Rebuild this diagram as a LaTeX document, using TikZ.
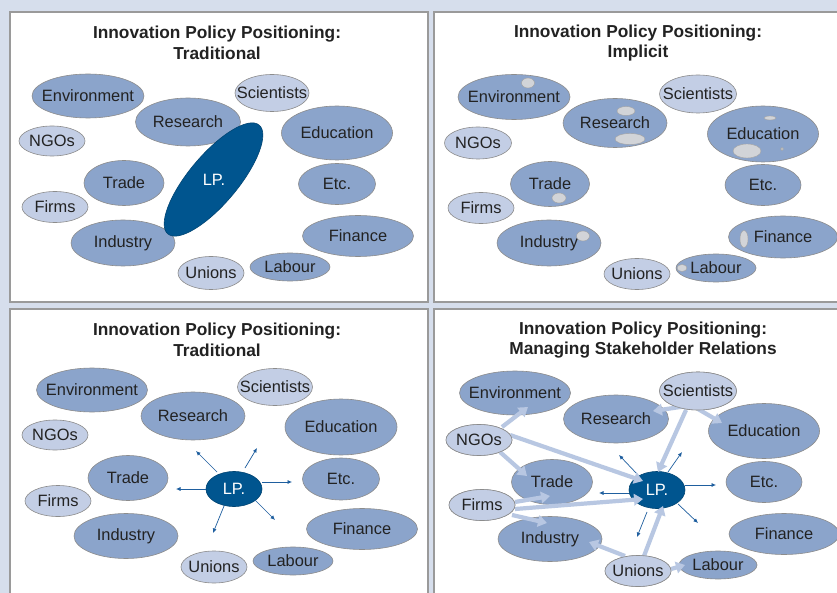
\documentclass[tikz,border=0pt]{standalone}
\usepackage{fontspec}
\setmainfont{Liberation Sans}
\usetikzlibrary{shapes.geometric,arrows.meta,calc}
\definecolor{bgc}{HTML}{D6DEEC}
\definecolor{darkfill}{HTML}{8BA4CB}
\definecolor{lightfill}{HTML}{C3CEE5}
\definecolor{edgec}{HTML}{8C8C8C}
\definecolor{lpc}{HTML}{00558F}
\definecolor{thickc}{HTML}{B8C7E2}
\definecolor{thinc}{HTML}{1F5F9F}
\definecolor{txtc}{HTML}{222222}
\definecolor{blobc}{HTML}{D2D4D8}
\definecolor{panelc}{HTML}{9A9A9A}
\tikzset{
  ell/.style={ellipse, inner sep=0pt, outer sep=0pt, draw=edgec, line width=0.6pt},
  darkell/.style={ell, fill=darkfill},
  lightell/.style={ell, fill=lightfill},
  lpell/.style={ell, fill=lpc, draw=lpc!80!black},
  lbl/.style={text=txtc, font=\fontsize{16.4}{19}\selectfont, inner sep=0pt},
  lplbl/.style={text=white, font=\fontsize{16.4}{19}\selectfont, inner sep=0pt},
  ttl/.style={text=txtc, font=\fontsize{17.3}{20.5}\selectfont\bfseries, align=center, inner sep=0pt},
  panel/.style={draw=panelc, line width=1.6pt, fill=white},
  blob/.style={ellipse, inner sep=0pt, fill=blobc, draw=edgec!80, line width=0.4pt},
  thickarrow/.style={draw=thickc, line width=4.2pt, -{Triangle[width=11.5pt,length=9pt]}},
  thinarrow/.style={draw=thinc, line width=0.7pt, -{Latex[length=4.5pt,width=4pt]}}
}
\newcommand\stake[7]{%
  \node[#2, minimum width=#5pt, minimum height=#6pt] (#1) at (#3,#4) {};
  \node[lbl] (#1-t) at (#1) {#7};}
\begin{document}
\begin{tikzpicture}[x=1pt,y=-1pt]
\useasboundingbox (0,0) rectangle (837,593);
\clip (0,0) rectangle (837,593);
\fill[bgc] (0,0) rectangle (837,593);
% panels
\draw[panel] (10,12) rectangle (428,302);
\draw[panel] (434,12) rectangle (850,302);
\draw[panel] (10,309) rectangle (428,610);
\draw[panel] (434,309) rectangle (850,610);

% ===== Panel 1 =====
\node[ttl] (p-title) at (217,43) {Innovation Policy Positioning:\\Traditional};
\stake{p-env}{darkell}{88}{96}{112}{44}{Environment}
\stake{p-sci}{lightell}{272}{93}{74}{37}{Scientists}
\stake{p-res}{darkell}{188}{122}{105}{48}{Research}
\stake{p-ngo}{lightell}{52}{141}{66}{30}{NGOs}
\stake{p-edu}{darkell}{337}{133}{111}{54}{Education}
\stake{p-tra}{darkell}{124}{183}{80}{45}{Trade}
\stake{p-etc}{darkell}{337}{184}{77}{41}{Etc.}
\stake{p-fir}{lightell}{55}{207}{66}{31}{Firms}
\stake{p-ind}{darkell}{123}{243}{104}{46}{Industry}
\stake{p-fin}{darkell}{358}{236}{111}{41}{Finance}
\stake{p-uni}{lightell}{211}{273}{66}{33}{Unions}
\stake{p-lab}{darkell}{290}{267}{80}{28}{Labour}
\node[lpell, minimum width=142pt, minimum height=49pt, rotate=50] (p-lp) at (213.5,179.5) {};
\node[lplbl] (p-lp-t) at (214,180) {LP.};

% ===== Panel 2 =====
\node[ttl] (q-title) at (638,43) {Innovation Policy Positioning:\\Implicit};
\stake{q-env}{darkell}{514}{97}{112}{45}{Environment}
\stake{q-sci}{lightell}{698}{94}{77}{38}{Scientists}
\stake{q-res}{darkell}{615}{123}{104}{49}{Research}
\stake{q-ngo}{lightell}{478}{143}{67}{32}{NGOs}
\stake{q-edu}{darkell}{763}{134}{111}{56}{Education}
\stake{q-tra}{darkell}{550}{184}{79}{45}{Trade}
\stake{q-etc}{darkell}{763}{185}{76}{41}{Etc.}
\stake{q-fir}{lightell}{481}{208}{66}{31}{Firms}
\stake{q-ind}{darkell}{549}{243}{104}{46}{Industry}
\stake{q-fin}{darkell}{783}{237}{109}{42}{Finance}
\stake{q-uni}{lightell}{637}{274}{66}{31}{Unions}
\stake{q-lab}{darkell}{716}{268}{80}{28}{Labour}
\foreach \bx/\by/\bw/\bh [count=\i] in {528/83/13/10, 626/111/18/9, 630/139/30/11, 770/118/12/4, 747/151/28/14, 782/149/3/3, 559/198/14/10, 583/236/13/10, 744/239/8/17, 682/268/10/7}
  \node[blob, minimum width=\bw pt, minimum height=\bh pt] (q-blob\i) at (\bx,\by) {};

% ===== Panel 3 =====
\node[ttl] (r-title) at (217,340) {Innovation Policy Positioning:\\Traditional};
\stake{r-env}{darkell}{92}{390}{111}{44}{Environment}
\stake{r-sci}{lightell}{275}{387}{75}{37}{Scientists}
\stake{r-res}{darkell}{193}{416}{104}{48}{Research}
\stake{r-ngo}{lightell}{55}{435}{66}{30}{NGOs}
\stake{r-edu}{darkell}{341}{427}{112}{56}{Education}
\stake{r-tra}{darkell}{128}{478}{80}{45}{Trade}
\stake{r-etc}{darkell}{341}{479}{77}{42}{Etc.}
\stake{r-fir}{lightell}{58}{501}{66}{31}{Firms}
\stake{r-ind}{darkell}{126}{536}{104}{45}{Industry}
\stake{r-fin}{darkell}{362}{529}{111}{41}{Finance}
\stake{r-uni}{lightell}{214}{567}{66}{32}{Unions}
\stake{r-lab}{darkell}{293}{561}{80}{28}{Labour}
\node[lpell, minimum width=56pt, minimum height=35pt] (r-lp) at (234,489) {};
\node[lplbl] (r-lp-t) at (r-lp) {LP.};
\foreach \a/\b/\c/\d in {-17/-17/-38/-38, 11/-21/23/-41, 28/-7/58/-7, -28/0/-58/0, 21/11/41/31, -10/17/-21/44}
  \draw[thinarrow] ($(r-lp)+(\a,\b)$) -- ($(r-lp)+(\c,\d)$);

% ===== Panel 4 =====
\node[ttl] (s-title) at (643,340) {Innovation Policy Positioning:\\Managing Stakeholder Relations};
\stake{s-env}{darkell}{515}{393}{111}{44}{Environment}
\stake{s-res}{darkell}{616}{419}{105}{48}{Research}
\stake{s-edu}{darkell}{764}{431}{111}{55}{Education}
\stake{s-tra}{darkell}{552}{482}{81}{45}{Trade}
\stake{s-etc}{darkell}{764}{482}{76}{41}{Etc.}
\stake{s-ind}{darkell}{550}{539}{104}{45}{Industry}
\stake{s-fin}{darkell}{784}{534}{110}{41}{Finance}
\stake{s-lab}{darkell}{718}{565}{78}{28}{Labour}
\node[lpell, minimum width=56pt, minimum height=37pt] (s-lp) at (657,490) {};
\node[lplbl] (s-lp-t) at (s-lp) {LP.};
\foreach \a/\b/\c/\d in {-19/-15/-38/-35, 11/-18/25/-38, 28/-5/59/-5, -28/3/-58/3, 21/14/41/33, -10/22/-20/47}
  \draw[thinarrow] ($(s-lp)+(\a,\b)$) -- ($(s-lp)+(\c,\d)$);
% thick stakeholder arrows
\node[lightell, minimum width=66pt, minimum height=31pt] (s-ngo) at (479,440) {};
\node[lightell, minimum width=66pt, minimum height=31pt] (s-fir) at (482,505) {};
\node[lightell, minimum width=66pt, minimum height=31pt] (s-uni) at (638,571) {};
\node[lightell, minimum width=77pt, minimum height=38pt] (s-sci) at (698,391) {};
\draw[thickarrow] ($(s-ngo)+(23,-13)$) -- ($(s-env)+(13,14)$);
\draw[thickarrow] ($(s-ngo)+(21,12)$) -- ($(s-tra)+(-25,-6)$);
\draw[thickarrow] ($(s-ngo)+(31,-5)$) -- ($(s-lp)+(-14,-9)$);
\draw[thickarrow] ($(s-fir)+(33,-3)$) -- ($(s-tra)+(-2,14)$);
\draw[thickarrow] ($(s-fir)+(33,4)$) -- ($(s-lp)+(-14,9)$);
\draw[thickarrow] ($(s-fir)+(30,10)$) -- ($(s-ind)+(-3,-16)$);
\draw[thickarrow] ($(s-uni)+(-13,-15)$) -- ($(s-ind)+(39,3)$);
\draw[thickarrow] ($(s-uni)+(6,-15)$) -- ($(s-lp)+(6,16)$);
\draw[thickarrow] ($(s-uni)+(33,-2)$) -- ($(s-lab)+(-33,0)$);
\draw[thickarrow] ($(s-sci)+(-11,15)$) -- ($(s-res)+(37,-8)$);
\draw[thickarrow] ($(s-sci)+(0,18)$) -- ($(s-edu)+(-42,-8)$);
\draw[thickarrow] ($(s-sci)+(-12,19)$) -- ($(s-lp)+(1,-18)$);
% light stakeholders on top
\stake{s-ngo2}{lightell}{479}{440}{66}{31}{NGOs}
\stake{s-fir2}{lightell}{482}{505}{66}{31}{Firms}
\stake{s-uni2}{lightell}{638}{571}{66}{31}{Unions}
\stake{s-sci2}{lightell}{698}{391}{77}{38}{Scientists}
\end{tikzpicture}
\end{document}
